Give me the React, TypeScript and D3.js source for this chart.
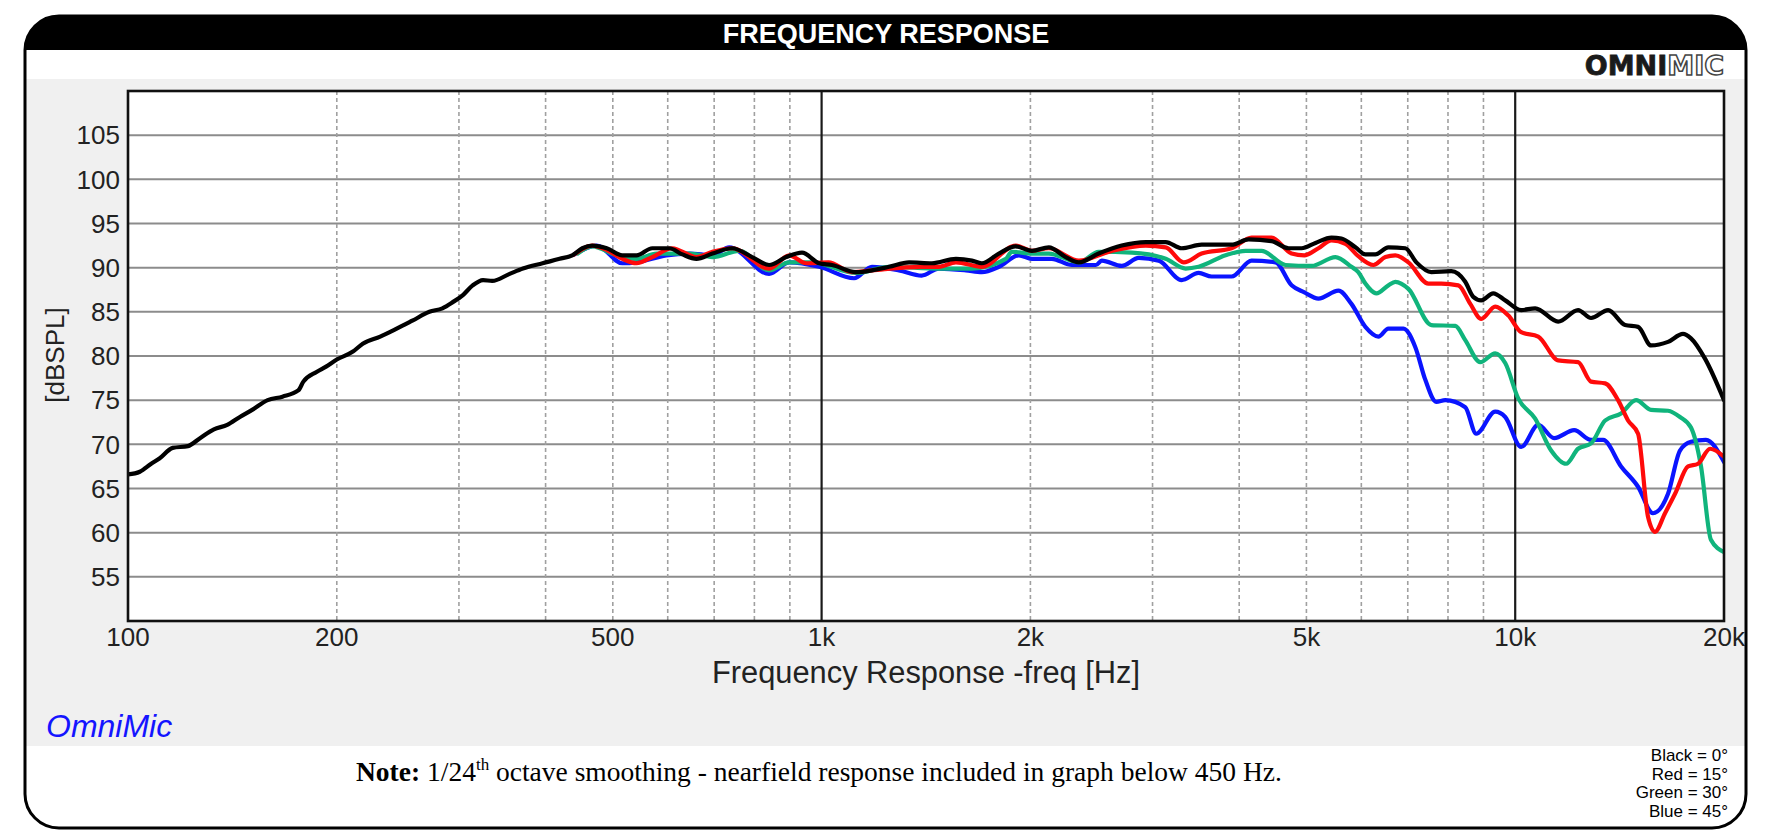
import React from 'react';
import * as d3 from 'd3';

const W = 1781;
const H = 839;

const freqTicks = [100, 200, 500, 1000, 2000, 5000, 10000, 20000];
const freqTickLabels = ['100', '200', '500', '1k', '2k', '5k', '10k', '20k'];
const dashedFreqs = [200, 300, 400, 500, 600, 700, 800, 900, 2000, 3000, 4000, 5000, 6000, 7000, 8000, 9000];
const solidFreqs = [1000, 10000];
const dbTicks = [55, 60, 65, 70, 75, 80, 85, 90, 95, 100, 105];
const legendLines = ['Black = 0°', 'Red = 15°', 'Green = 30°', 'Blue = 45°'];

type P = [number, number];

const black: P[] = [
  [100, 66.6], [104, 66.9], [108, 67.8], [111, 68.4], [116, 69.6], [122, 69.8], [127, 70.7], [133, 71.7],
  [139, 72.2], [145, 73.1], [151, 73.9], [159, 75.0], [167, 75.4], [176, 76.1], [179, 77.1], [187, 78.2],
  [193, 78.8], [200, 79.6], [211, 80.5], [218, 81.4], [231, 82.2], [244, 83.1], [257, 84.0], [272, 85.0],
  [284, 85.4], [294, 86.1], [304, 86.9], [314, 88.0], [325, 88.6], [335, 88.5], [355, 89.3], [371, 89.9],
  [396, 90.5], [419, 91.0], [437, 91.4], [452, 92.2], [467, 92.5], [490, 92.2], [516, 91.4], [541, 91.4],
  [570, 92.2], [603, 92.2], [630, 91.5], [660, 91.0], [696, 91.6], [743, 92.2], [794, 91.2], [840, 90.3],
  [889, 91.2], [937, 91.7], [992, 90.5], [1035, 90.3], [1121, 89.5], [1182, 89.7], [1251, 90.1], [1337, 90.6],
  [1442, 90.5], [1562, 91.0], [1647, 90.8], [1702, 90.5], [1801, 91.6], [1905, 92.4], [2010, 91.9], [2126, 92.3],
  [2249, 91.2], [2349, 90.6], [2509, 91.6], [2708, 92.5], [2934, 92.9], [3134, 92.9], [3304, 92.2], [3531, 92.6],
  [3900, 92.6], [4127, 93.2], [4454, 93.0], [4713, 92.2], [4920, 92.2], [5153, 92.8], [5434, 93.4], [5617, 93.3],
  [5884, 92.3], [6081, 91.5], [6286, 91.5], [6564, 92.3], [6944, 92.2], [7203, 90.6], [7570, 89.5], [8089, 89.6],
  [8472, 88.4], [8700, 86.7], [8933, 86.3], [9296, 87.1], [9674, 86.3], [10200, 85.2], [10686, 85.4], [11534, 83.9],
  [12321, 85.2], [12863, 84.3], [13614, 85.2], [14402, 83.5], [15036, 83.3], [15698, 81.2], [16608, 81.6],
  [17455, 82.5], [17923, 82.0], [18777, 79.7], [20000, 75.0],
];

const red: P[] = [
  [440, 91.5], [467, 92.5], [490, 92.0], [516, 91.0], [541, 90.5], [570, 91.2], [609, 92.2], [660, 91.2],
  [696, 91.8], [743, 92.2], [840, 89.9], [898, 91.4], [950, 90.5], [1023, 90.6], [1107, 89.5], [1182, 89.7],
  [1394, 90.1], [1476, 90.1], [1562, 90.6], [1702, 90.1], [1905, 92.5], [2010, 91.9], [2126, 92.2], [2349, 90.8],
  [2620, 91.9], [2934, 92.5], [3134, 92.3], [3327, 90.6], [3531, 91.6], [3900, 92.2], [4168, 93.4], [4454, 93.4],
  [4760, 91.6], [4966, 91.4], [5204, 92.2], [5434, 93.1], [5692, 92.7], [5940, 91.3], [6245, 90.3], [6499, 91.2],
  [6718, 91.4], [7015, 90.6], [7495, 88.2], [7825, 88.2], [8279, 88.0], [8615, 85.9], [8933, 84.2], [9358, 85.6],
  [9771, 84.6], [10200, 82.7], [10794, 82.2], [11534, 79.5], [12321, 79.3], [12863, 77.1], [13480, 76.9],
  [14072, 75.0], [14545, 72.7], [15036, 71.2], [15541, 61.8], [15906, 60.1], [16444, 62.2], [17000, 64.4],
  [17750, 67.5], [18348, 67.8], [19093, 69.5], [20000, 68.6],
];

const green: P[] = [
  [445, 91.6], [467, 92.4], [506, 91.4], [541, 91.0], [578, 91.6], [645, 91.6], [696, 91.2], [761, 91.9],
  [840, 89.7], [898, 90.6], [969, 90.6], [1121, 89.4], [1251, 90.1], [1476, 89.9], [1647, 89.9], [1844, 91.0],
  [1880, 91.8], [2010, 91.6], [2126, 91.6], [2349, 90.6], [2509, 91.8], [2800, 91.7], [3134, 91.0], [3349, 89.9],
  [3496, 90.1], [3823, 91.4], [4087, 91.9], [4309, 91.9], [4666, 90.3], [5086, 90.2], [5506, 91.2], [5806, 90.1],
  [5940, 89.5], [6081, 88.2], [6308, 87.1], [6564, 88.0], [6718, 88.4], [7015, 87.6], [7570, 83.5], [8197, 83.4],
  [8472, 81.8], [8904, 79.3], [9358, 80.3], [9674, 79.2], [10100, 75.2], [10686, 72.9], [11267, 69.3],
  [11839, 67.8], [12321, 69.5], [12863, 70.1], [13480, 72.7], [14211, 73.5], [14936, 75.0], [15698, 73.9],
  [16608, 73.8], [17280, 73.1], [17923, 71.9], [18530, 67.5], [19150, 59.2], [20000, 57.8],
];

const blue: P[] = [
  [440, 91.5], [474, 92.5], [516, 90.5], [541, 90.6], [597, 91.4], [645, 91.6], [696, 91.4], [736, 92.3],
  [840, 89.3], [898, 90.6], [992, 90.1], [1114, 88.8], [1182, 90.1], [1293, 89.7], [1394, 89.1], [1476, 89.9],
  [1615, 89.7], [1702, 89.5], [1801, 90.1], [1925, 91.4], [2010, 91.0], [2147, 91.0], [2295, 90.3], [2485, 90.3],
  [2535, 90.8], [2708, 90.2], [2866, 91.1], [3062, 90.8], [3304, 88.6], [3496, 89.4], [3650, 89.0], [3900, 89.0],
  [4168, 90.8], [4513, 90.6], [4760, 88.0], [4966, 87.2], [5204, 86.5], [5561, 87.4], [5806, 85.9], [6081, 83.3],
  [6349, 82.2], [6564, 83.1], [6899, 83.1], [7178, 81.0], [7420, 77.3], [7695, 74.8], [7928, 75.0], [8472, 74.2],
  [8786, 71.2], [9358, 73.7], [9674, 73.1], [10200, 69.7], [10794, 72.2], [11381, 70.7], [12162, 71.6],
  [12863, 70.5], [13389, 70.5], [14211, 67.5], [15036, 65.2], [15800, 62.2], [16608, 64.4], [17280, 69.3],
  [17923, 70.3], [18836, 70.5], [20000, 68.0],
];

const series = [
  { name: 'Blue', color: '#0a14ff', data: blue },
  { name: 'Green', color: '#10b47c', data: green },
  { name: 'Red', color: '#ff0a0a', data: red },
  { name: 'Black', color: '#000000', data: black },
];

const SANS = '"Liberation Sans", Arial, Helvetica, sans-serif';
const SERIF = '"Liberation Serif", "Times New Roman", serif';

export default function App() {
  const bx = 25, by = 16, bw = 1721, bh = 812, br = 34;
  const pl = 128, pr = 1724, pt = 91, pb = 621;

  const x = d3.scaleLog().domain([100, 20000]).range([pl, pr]);
  const y = d3.scaleLinear().domain([50, 110]).range([pb, pt]);
  const line = d3
    .line<P>()
    .x((d) => x(d[0]))
    .y((d) => y(d[1]))
    .curve(d3.curveMonotoneX);

  return (
    <div style={{ position: 'absolute', left: 0, top: 0 }}>
      <svg width={W} height={H} viewBox={`0 0 ${W} ${H}`} style={{ display: 'block', background: '#fff' }}>
        <defs>
          <clipPath id="frameClip">
            <rect x={bx} y={by} width={bw} height={bh} rx={br} ry={br} />
          </clipPath>
          <clipPath id="plotClip">
            <rect x={pl} y={pt} width={pr - pl} height={pb - pt} />
          </clipPath>
        </defs>

        <g clipPath="url(#frameClip)">
          <rect x={bx} y={by} width={bw} height={bh} fill="#ffffff" />
          <rect x={bx} y={by} width={bw} height={50 - by} fill="#000000" />
          <rect x={bx} y={79} width={bw} height={746 - 79} fill="#f0f0f0" />
        </g>

        <text x={886} y={43} textAnchor="middle" fill="#ffffff" fontFamily={SANS} fontWeight="bold" fontSize={27}>
          FREQUENCY RESPONSE
        </text>

        <text x={1724} y={75} textAnchor="end" fontFamily='"DejaVu Sans", sans-serif' fontWeight="bold" fontSize={27}>
          <tspan fill="#1a1a1a" stroke="#1a1a1a" strokeWidth={0.8}>OMNI</tspan>
          <tspan fill="#ffffff" stroke="#444444" strokeWidth={1.5}>MIC</tspan>
        </text>

        {/* plot area */}
        <rect x={pl} y={pt} width={pr - pl} height={pb - pt} fill="#ffffff" />

        {dbTicks.map((v) => (
          <line key={'h' + v} x1={pl} x2={pr} y1={y(v)} y2={y(v)} stroke="#8c8c8c" strokeWidth={2} />
        ))}
        {dashedFreqs.map((f) => (
          <line
            key={'v' + f}
            x1={x(f)}
            x2={x(f)}
            y1={pt}
            y2={pb}
            stroke="#a0a0a0"
            strokeWidth={1.6}
            strokeDasharray="4 3"
          />
        ))}
        {solidFreqs.map((f) => (
          <line key={'s' + f} x1={x(f)} x2={x(f)} y1={pt} y2={pb} stroke="#1a1a1a" strokeWidth={2.2} />
        ))}

        <g clipPath="url(#plotClip)">
          {series.map((s) => (
            <path
              key={s.name}
              d={line(s.data) || ''}
              fill="none"
              stroke={s.color}
              strokeWidth={4.2}
              strokeLinejoin="round"
              strokeLinecap="round"
            />
          ))}
        </g>

        <rect x={pl} y={pt} width={pr - pl} height={pb - pt} fill="none" stroke="#111111" strokeWidth={2.6} />

        {dbTicks.map((v) => (
          <text key={'yl' + v} x={120} y={y(v) + 9.3} textAnchor="end" fontFamily={SANS} fontSize={26} fill="#222">
            {v}
          </text>
        ))}
        {freqTicks.map((f, i) => (
          <text key={'xl' + f} x={x(f)} y={646} textAnchor="middle" fontFamily={SANS} fontSize={26} fill="#222">
            {freqTickLabels[i]}
          </text>
        ))}

        <text
          transform="translate(64,355) rotate(-90)"
          textAnchor="middle"
          fontFamily={SANS}
          fontSize={26}
          fill="#222"
        >
          [dBSPL]
        </text>

        <text x={(pl + pr) / 2} y={683} textAnchor="middle" fontFamily={SANS} fontSize={30.8} fill="#222">
          Frequency Response -freq [Hz]
        </text>

        <text x={46} y={737} fontFamily={SANS} fontStyle="italic" fontSize={32} fill="#1414ff">
          OmniMic
        </text>

        <text x={356} y={781} fontFamily={SERIF} fontSize={27.5} fill="#000">
          <tspan fontWeight="bold">Note:</tspan>
          <tspan> 1/24</tspan>
          <tspan fontSize={17} dy={-11}>th</tspan>
          <tspan dy={11}> octave smoothing - nearfield response included in graph below 450 Hz.</tspan>
        </text>

        {legendLines.map((t, i) => (
          <text key={t} x={1728} y={761 + i * 18.7} textAnchor="end" fontFamily={SANS} fontSize={17} fill="#000">
            {t}
          </text>
        ))}

        <rect
          x={bx}
          y={by}
          width={bw}
          height={bh}
          rx={br}
          ry={br}
          fill="none"
          stroke="#000"
          strokeWidth={3}
        />
      </svg>
    </div>
  );
}
